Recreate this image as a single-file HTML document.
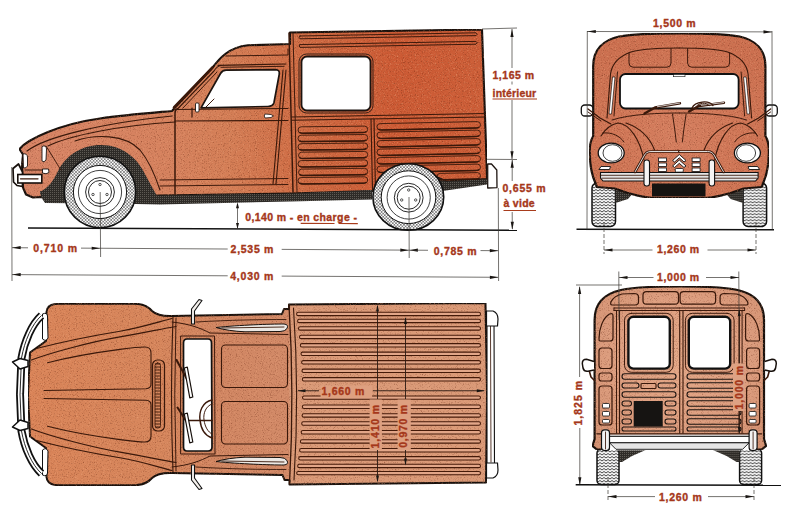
<!DOCTYPE html>
<html><head><meta charset="utf-8"><title>Citroën Acadiane - dimensions</title>
<style>
html,body{margin:0;padding:0;background:#fff;}
body{width:800px;height:522px;overflow:hidden;}
svg{display:block;}
.t{font-family:"Liberation Sans",sans-serif;font-weight:bold;font-size:10.5px;fill:#a5371a;stroke:#a5371a;stroke-width:0.35px;letter-spacing:0.8px;}
.ol{fill:none;stroke:#3a180a;stroke-linejoin:round;stroke-linecap:round;}
.dim{stroke:#2a2a2a;stroke-width:0.8;fill:none;}
</style></head><body>
<svg width="800" height="522" viewBox="0 0 800 522">
<defs>
  <pattern id="dots" width="3.200" height="3.200" patternUnits="userSpaceOnUse">
    <rect width="3.200" height="3.200" fill="#fff"/>
    <circle cx="0.8" cy="0.8" r="0.72" fill="#3c3c3c"/>
    <circle cx="2.400" cy="2.400" r="0.72" fill="#3c3c3c"/>
  </pattern>
  <pattern id="hatch" width="2" height="2" patternUnits="userSpaceOnUse">
    <rect width="2" height="2" fill="#2e2b27"/>
    <rect width="1" height="1" fill="#5e5a54"/>
  </pattern>
  <pattern id="tread" width="4" height="3" patternUnits="userSpaceOnUse">
    <rect width="4" height="3" fill="#f4f4f4"/>
    <path d="M0,0.5 L2,2 L4,0.5" stroke="#333" stroke-width="0.9" fill="none"/>
  </pattern>
  <linearGradient id="gSide" gradientUnits="userSpaceOnUse" x1="20" y1="0" x2="487" y2="0">
    <stop offset="0" stop-color="#d78466"/>
    <stop offset="0.32" stop-color="#d6825e"/>
    <stop offset="0.45" stop-color="#d47e56"/>
    <stop offset="0.6" stop-color="#cf6c44"/>
    <stop offset="0.8" stop-color="#cc5a34"/>
    <stop offset="1" stop-color="#cc5e38"/>
  </linearGradient>
  <linearGradient id="gTop" gradientUnits="userSpaceOnUse" x1="20" y1="0" x2="487" y2="0">
    <stop offset="0" stop-color="#da8458"/>
    <stop offset="0.3" stop-color="#d6865c"/>
    <stop offset="0.42" stop-color="#d18662"/>
    <stop offset="0.575" stop-color="#d28a68"/>
    <stop offset="0.578" stop-color="#da9a78"/>
    <stop offset="1" stop-color="#da9a78"/>
  </linearGradient>
  <radialGradient id="gRear" cx="0.5" cy="0.45" r="0.62">
    <stop offset="0" stop-color="#e3a888"/>
    <stop offset="0.55" stop-color="#dea082"/>
    <stop offset="1" stop-color="#d49374"/>
  </radialGradient>
  <radialGradient id="gFront" cx="0.5" cy="0.6" r="0.6">
    <stop offset="0" stop-color="#d57f60"/>
    <stop offset="1" stop-color="#cc7050"/>
  </radialGradient>
  <filter id="grain" x="0" y="0" width="1" height="1" color-interpolation-filters="sRGB">
    <feTurbulence type="fractalNoise" baseFrequency="0.85" numOctaves="2" seed="7" result="n"/>
    <feColorMatrix in="n" type="matrix" values="0 0 0 0 0.36  0 0 0 0 0.12  0 0 0 0 0.04  1.25 0 0 0 -0.675" result="dk"/>
    <feColorMatrix in="n" type="matrix" values="0 0 0 0 0.95  0 0 0 0 0.68  0 0 0 0 0.52  0 -1.25 0 0 0.585" result="lt"/>
    <feComposite in="dk" in2="SourceAlpha" operator="in" result="dk2"/>
    <feComposite in="lt" in2="SourceAlpha" operator="in" result="lt2"/>
    <feMerge><feMergeNode in="SourceGraphic"/><feMergeNode in="dk2"/><feMergeNode in="lt2"/></feMerge>
  </filter>
</defs>
<rect width="800" height="522" fill="#fff"/>
<g id="side">
  <!-- body -->
  <path d="M19.500,149 C28,139 60,124 100,118.500 C125,115 150,113 172,111 L175,107.500 L213,67 C219,59 228,47.500 248,45.300 L290,44 L290,32.500 L482,29.500 L486.500,160 L487,179 L446,181.500 L437.500,177.500 L372,191 L290,193.600 L160,195.600 L62,199 L41,197 L33,197.500 L26,194.500 L23,187.500 L22,165 L23,154.500 Z" fill="url(#gSide)" filter="url(#grain)" stroke="#17100c" stroke-width="2.100" stroke-linejoin="round"/>
  <!-- sill dark band -->
  <path d="M40,191 L60,197 L160,195.600 L290,193.600 L372,190 L372,199.500 L290,201.500 L160,204.500 L62,202.500 L41.500,197.500 Z" fill="url(#hatch)"/>
  <path d="M437.500,177.500 L446,181.500 L487,179 L487,184.500 L446,190.500 L436,192 Z" fill="url(#hatch)"/>
  <!-- front wheel arch -->
  <path d="M40,192 C48,188 54,180 58,171 C66,155 82,145 101,145 C122,145 138,158 146,176 L157,196 L157,204 L45,203 L41,197 Z" fill="url(#hatch)"/>
  <g id="sideribs"><path d="M301.2,126.8 L364.5,126.1 A3.2 3.2 0 0 1 364.5,132.5 L301.2,133.2 A3.2 3.2 0 0 1 301.2,126.8 Z" fill="none" stroke="#3a180a" stroke-width="0.9"/><path d="M299.9,132.6 Q301.2,133.2 303.2,133.2 L362.5,132.5 Q364.5,132.5 365.8,131.9" fill="none" stroke="#3a180a" stroke-width="1.500" stroke-linecap="round"/><path d="M301.2,135.2 L364.5,134.5 A3.2 3.2 0 0 1 364.5,140.9 L301.2,141.6 A3.2 3.2 0 0 1 301.2,135.2 Z" fill="none" stroke="#3a180a" stroke-width="0.9"/><path d="M299.9,141.0 Q301.2,141.6 303.2,141.6 L362.5,140.9 Q364.5,140.9 365.8,140.3" fill="none" stroke="#3a180a" stroke-width="1.500" stroke-linecap="round"/><path d="M301.2,143.7 L364.5,143.0 A3.2 3.2 0 0 1 364.5,149.4 L301.2,150.1 A3.2 3.2 0 0 1 301.2,143.7 Z" fill="none" stroke="#3a180a" stroke-width="0.9"/><path d="M299.9,149.5 Q301.2,150.1 303.2,150.1 L362.5,149.4 Q364.5,149.4 365.8,148.8" fill="none" stroke="#3a180a" stroke-width="1.500" stroke-linecap="round"/><path d="M301.2,152.2 L364.5,151.4 A3.2 3.2 0 0 1 364.5,157.8 L301.2,158.5 A3.2 3.2 0 0 1 301.2,152.2 Z" fill="none" stroke="#3a180a" stroke-width="0.9"/><path d="M299.9,157.9 Q301.2,158.5 303.2,158.5 L362.5,157.8 Q364.5,157.8 365.8,157.2" fill="none" stroke="#3a180a" stroke-width="1.500" stroke-linecap="round"/><path d="M301.2,160.6 L364.5,159.9 A3.2 3.2 0 0 1 364.5,166.3 L301.2,167.0 A3.2 3.2 0 0 1 301.2,160.6 Z" fill="none" stroke="#3a180a" stroke-width="0.9"/><path d="M299.9,166.4 Q301.2,167.0 303.2,167.0 L362.5,166.3 Q364.5,166.3 365.8,165.7" fill="none" stroke="#3a180a" stroke-width="1.500" stroke-linecap="round"/><path d="M301.2,169.1 L364.5,168.3 A3.2 3.2 0 0 1 364.5,174.7 L301.2,175.4 A3.2 3.2 0 0 1 301.2,169.1 Z" fill="none" stroke="#3a180a" stroke-width="0.9"/><path d="M299.9,174.8 Q301.2,175.4 303.2,175.4 L362.5,174.7 Q364.5,174.7 365.8,174.1" fill="none" stroke="#3a180a" stroke-width="1.500" stroke-linecap="round"/><path d="M301.2,177.5 L364.5,176.8 A3.2 3.2 0 0 1 364.5,183.2 L301.2,183.9 A3.2 3.2 0 0 1 301.2,177.5 Z" fill="none" stroke="#3a180a" stroke-width="0.9"/><path d="M299.9,183.3 Q301.2,183.9 303.2,183.9 L362.5,183.2 Q364.5,183.2 365.8,182.6" fill="none" stroke="#3a180a" stroke-width="1.500" stroke-linecap="round"/><path d="M380.2,123.6 L477.3,121.6 A3.2 3.2 0 0 1 477.3,128.0 L380.2,130.0 A3.2 3.2 0 0 1 380.2,123.6 Z" fill="none" stroke="#3a180a" stroke-width="0.9"/><path d="M378.9,129.4 Q380.2,130.0 382.2,130.0 L475.3,128.0 Q477.3,128.0 478.6,127.4" fill="none" stroke="#3a180a" stroke-width="1.500" stroke-linecap="round"/><path d="M380.2,132.1 L477.3,130.1 A3.2 3.2 0 0 1 477.3,136.5 L380.2,138.5 A3.2 3.2 0 0 1 380.2,132.1 Z" fill="none" stroke="#3a180a" stroke-width="0.9"/><path d="M378.9,137.9 Q380.2,138.5 382.2,138.5 L475.3,136.5 Q477.3,136.5 478.6,135.9" fill="none" stroke="#3a180a" stroke-width="1.500" stroke-linecap="round"/><path d="M380.2,140.6 L477.3,138.6 A3.2 3.2 0 0 1 477.3,145.0 L380.2,147.0 A3.2 3.2 0 0 1 380.2,140.6 Z" fill="none" stroke="#3a180a" stroke-width="0.9"/><path d="M378.9,146.4 Q380.2,147.0 382.2,147.0 L475.3,145.0 Q477.3,145.0 478.6,144.4" fill="none" stroke="#3a180a" stroke-width="1.500" stroke-linecap="round"/><path d="M380.2,149.1 L477.3,147.1 A3.2 3.2 0 0 1 477.3,153.5 L380.2,155.5 A3.2 3.2 0 0 1 380.2,149.1 Z" fill="none" stroke="#3a180a" stroke-width="0.9"/><path d="M378.9,154.9 Q380.2,155.5 382.2,155.5 L475.3,153.5 Q477.3,153.5 478.6,152.9" fill="none" stroke="#3a180a" stroke-width="1.500" stroke-linecap="round"/><path d="M380.2,157.6 L477.3,155.6 A3.2 3.2 0 0 1 477.3,162.0 L380.2,164.0 A3.2 3.2 0 0 1 380.2,157.6 Z" fill="none" stroke="#3a180a" stroke-width="0.9"/><path d="M378.9,163.4 Q380.2,164.0 382.2,164.0 L475.3,162.0 Q477.3,162.0 478.6,161.4" fill="none" stroke="#3a180a" stroke-width="1.500" stroke-linecap="round"/><path d="M380.2,166.1 L477.3,164.1 A3.2 3.2 0 0 1 477.3,170.5 L380.2,172.5 A3.2 3.2 0 0 1 380.2,166.1 Z" fill="none" stroke="#3a180a" stroke-width="0.9"/><path d="M378.9,171.9 Q380.2,172.5 382.2,172.5 L475.3,170.5 Q477.3,170.5 478.6,169.9" fill="none" stroke="#3a180a" stroke-width="1.500" stroke-linecap="round"/><path d="M440.2,173.4 L477.3,172.6 A3.2 3.2 0 0 1 477.3,179.0 L440.2,179.8 A3.2 3.2 0 0 1 440.2,173.4 Z" fill="none" stroke="#3a180a" stroke-width="0.9"/><path d="M438.9,179.2 Q440.2,179.8 442.2,179.8 L475.3,179.0 Q477.3,179.0 478.6,178.4" fill="none" stroke="#3a180a" stroke-width="1.500" stroke-linecap="round"/></g>
  <!-- hood/fender lines -->
  <path class="ol" stroke-width="1.22" d="M27,151 C45,137 100,123.500 172,116"/>
  <path class="ol" stroke-width="1.1" d="M48,146 C70,135 120,125.500 175,122"/>
  <path class="ol" stroke-width="0.98" d="M46,146 C55,160 58,166 61,170"/>
  <path class="ol" stroke-width="1.1" d="M75,141 C95,134 125,134 140,150 C150,162 156,178 160,190"/>
  <!-- belt lines / door -->
  <path class="ol" stroke-width="1.1" d="M175,109.500 L288,108.500"/>
  <path class="ol" stroke-width="1.1" d="M175,121 L288,120.500"/>
  <path class="ol" stroke-width="1.500" d="M178,108.500 Q175,109.500 175,113 L175,194"/>
  
  <path class="ol" stroke-width="0.98" d="M160,180 L288,178.500"/>
  <path class="ol" stroke-width="0.98" d="M160,186 L288,184.500"/>
  <path class="ol" stroke-width="1.1" d="M283,70 L273,184"/>
  <path class="ol" stroke-width="1.1" d="M286,70 L276,184"/>
  <path class="ol" stroke-width="1.46" d="M289,33 L293,192"/>
  <path class="ol" stroke-width="0.98" d="M293,33 L297,192"/>
  <!-- cab roof gutter -->
  <path class="ol" stroke-width="0.98" d="M226,56 L288,55 L288,49"/>
  <path class="ol" stroke-width="1.22" d="M218,65.300 L286,64"/><path class="ol" stroke-width="0.98" d="M221,67.300 L284,66.300"/>
  <!-- a-pillar -->
  <path class="ol" stroke="#1d1410" stroke-width="2.6" d="M174,107.500 L212.500,67.500"/>
  <path class="ol" stroke-width="1.1" d="M178.500,108 L214,71 Q217,66 221,65.500"/><path class="ol" stroke-width="0.98" d="M183,108 L217,72"/>
  <!-- windows -->
  <path d="M201,107.800 L220.500,73.500 Q222.500,70.300 226,70.200 L275.500,69.600 Q279.800,69.800 279.300,74 L274,102.500 Q273,106.300 268,106.500 Z" fill="#fff" stroke="#1d1410" stroke-width="1.700" stroke-linejoin="round"/>
  <path class="ol" stroke-width="0.98" d="M206,107 L214,99"/>
  <rect x="301.500" y="56.500" width="69" height="54" rx="5.500" fill="#fff" stroke="#1d1410" stroke-width="1.8"/>
  <rect x="299" y="54" width="74" height="59" rx="7.500" fill="none" stroke="#1d1410" stroke-width="0.84"/>
  <!-- cargo top ribs -->
  <path class="ol" stroke-width="0.98" d="M300,36 L476,32.800 Q478.500,34.200 476,35.600 L300,38.800 Q298,37.400 300,36 Z"/>
  <path class="ol" stroke-width="0.98" d="M300,44.600 L476,41.400 Q478.500,42.800 476,44.200 L300,47.400 Q298,46 300,44.600 Z"/>
  <!-- cargo belt line -->
  <path class="ol" stroke-width="1.22" d="M292,117 L485.500,113.500"/>
  <path class="ol" stroke-width="1.1" d="M292,120.300 L485.500,117"/>
  <path class="ol" stroke-width="1.1" d="M371,119 L372.500,190"/>
  <path class="ol" stroke-width="1.1" d="M374,119 L375.500,190"/>
  <!-- mirror -->
  <rect x="195.500" y="103" width="3.500" height="9" rx="1" fill="#fff" stroke="#1d1410" stroke-width="0.9"/>
  <path class="ol" stroke-width="1.22" d="M192,108 L192,117"/>
  <!-- door handle -->
  <path d="M265,114 L271,114.500 L273.500,116 L271,117.500 L265,118 Q263.500,116 265,114 Z" fill="#fff" stroke="#1d1410" stroke-width="0.8"/>
  <!-- headlights -->
  <path d="M23,154 Q27,153 27.500,157 L27.500,166 Q26,168.500 23.500,168 Z" fill="#fff" stroke="#1d1410" stroke-width="0.9"/>
  <path d="M42,146.500 Q46,144.500 46.500,149 L46,160 Q44,163 42,161 Z" fill="#fff" stroke="#1d1410" stroke-width="0.9"/>
  <!-- bumper -->
  <path class="ol" stroke-width="1" d="M25,170 L44,170"/>
  <path d="M42.500,169 L48.500,169 L49,172.500 L46,173.800 L42.500,173 Z" fill="#fff" stroke="#17100c" stroke-width="0.9"/>
  <path d="M13,168.500 L18.500,164 L22.500,172 L22.500,186.500 L17,185.500 L13.500,182 Z" fill="#fff" stroke="#17100c" stroke-width="1.700" stroke-linejoin="round"/>
  <rect x="17.800" y="174.500" width="24" height="8.500" fill="#fff" stroke="#17100c" stroke-width="1.600"/>
  <path class="ol" stroke="#17100c" stroke-width="1.300" d="M20.500,178.800 L38,178.800"/>
  <!-- rear bumper -->
  <path d="M487.700,164 L491.500,164 L496.800,170 L497,187.600 L487.700,188 Z" fill="#fff" stroke="#1d1410" stroke-width="1.300" stroke-linejoin="round"/>
  <!-- front wheel -->
  <g>
    <circle cx="100" cy="192" r="35.700" fill="url(#dots)" stroke="#111" stroke-width="1.600"/>
    <circle cx="100" cy="192" r="26.600" fill="#fff" stroke="#111" stroke-width="1"/>
    <circle cx="100" cy="192" r="21.600" fill="none" stroke="#111" stroke-width="0.8"/>
    <circle cx="100" cy="192" r="14.400" fill="none" stroke="#111" stroke-width="0.9"/>
    <circle cx="100" cy="192" r="11.500" fill="none" stroke="#111" stroke-width="0.9"/>
    <circle cx="100" cy="184.500" r="1.200" fill="none" stroke="#111" stroke-width="0.7"/>
    <circle cx="93" cy="194.500" r="1.200" fill="none" stroke="#111" stroke-width="0.7"/>
    <circle cx="107" cy="194.500" r="1.200" fill="none" stroke="#111" stroke-width="0.7"/>
  </g>
  <!-- rear wheel -->
  <g>
    <ellipse cx="408.300" cy="197" rx="35.400" ry="33.300" fill="url(#dots)" stroke="#111" stroke-width="1.600"/>
    <ellipse cx="408.500" cy="197.200" rx="27.300" ry="26.400" fill="#fff" stroke="#111" stroke-width="1"/>
    <circle cx="408.700" cy="197.500" r="21.600" fill="none" stroke="#111" stroke-width="0.8"/>
    <circle cx="408.700" cy="197.700" r="14.400" fill="none" stroke="#111" stroke-width="0.9"/>
    <circle cx="408.700" cy="197.700" r="11.500" fill="none" stroke="#111" stroke-width="0.9"/>
    <circle cx="408.700" cy="190" r="1.200" fill="none" stroke="#111" stroke-width="0.7"/>
    <circle cx="401.700" cy="200" r="1.200" fill="none" stroke="#111" stroke-width="0.7"/>
    <circle cx="415.700" cy="200" r="1.200" fill="none" stroke="#111" stroke-width="0.7"/>
  </g>
  <!-- ground -->
  <path d="M28,228 L517,230.200" stroke="#111" stroke-width="1.500" fill="none"/>
</g>
<g id="front">
  <defs>
    <g id="fhalf">
      <!-- tyre -->
      <rect x="592" y="183" width="23.500" height="43.500" rx="5" fill="url(#tread)" stroke="#111" stroke-width="1.500"/>
      <path d="M615.500,190 L634,192 L628,199 L615.500,203 Z" fill="url(#hatch)"/>
    </g>
    <g id="fhalf2">
      <!-- inner cab outline -->
      <path class="ol" stroke-width="1.1" d="M679.300,48 C655,48 640,49.500 631,52 C620,56 612,63 610.500,74 L607,118"/>
      <!-- visor -->
      <path class="ol" stroke-width="0.98" d="M629,53 L629,63 Q629,67 633,67.200 L667,67.200 Q671,67 671,63 L671,48.500"/>
      <!-- a pillar strip -->
      <path d="M612.500,77 L615,77 L611.500,114 L609,114 Z" fill="#fff" stroke="#1d1410" stroke-width="0.7"/>
      <path class="ol" stroke-width="0.98" d="M617.500,72 L614,116"/>
      <!-- mirror -->
      <rect x="581.300" y="105" width="11.500" height="11" rx="3.500" fill="#fff" stroke="#111" stroke-width="1.300"/>
      <path class="ol" stroke-width="1.3" d="M588,109 L600,118 L611,124"/>
      <path class="ol" stroke-width="0.98" d="M588,112 L601,121"/>
      <!-- fender crease -->
      <path class="ol" stroke-width="1.1" d="M601,136 C606,128 612,124 618,123 C630,124 640,140 644,160"/>
      <path class="ol" stroke-width="0.98" d="M603,133 C612,132 620,136 624,142"/>
      <!-- hood lines -->
      <path class="ol" stroke-width="0.98" d="M612,120 C630,114 660,113 679.300,113"/>
      <path class="ol" stroke-width="1.1" d="M626,123 C640,128 650,138 654.500,150"/>
      <path class="ol" stroke-width="0.98" d="M672.500,114 Q675,130 676.300,142"/>
      <!-- headlight -->
      <ellipse cx="611.200" cy="153" rx="13" ry="9.800" fill="#fff" stroke="#111" stroke-width="1.300"/>
      <ellipse cx="612.500" cy="153" rx="9.500" ry="8.300" fill="#fff" stroke="#111" stroke-width="0.8"/>
      <!-- indicator -->
      <path d="M599,169.500 L601,166.500 L610.500,166.500 L609.500,169.500 Z" fill="#fff" stroke="#111" stroke-width="0.9"/>
      <!-- grille tube -->
      <path class="ol" stroke-width="2.6" d="M635,172 L644,156 Q646,151.500 651,151.500 L679.300,151.500"/>
      <path d="M635,172 L644,156 Q646,151.500 651,151.500 L679.300,151.500" fill="none" stroke="#ddd" stroke-width="1"/>
      <!-- overrider -->
      <rect x="644" y="160" width="5.500" height="26" rx="2.500" fill="#f4f4f4" stroke="#111" stroke-width="1.100"/>
      <!-- grille slots -->
      <rect x="658.500" y="158" width="8" height="3.400" fill="#fff" stroke="#111" stroke-width="0.8"/>
      <rect x="658.500" y="163" width="8" height="3.400" fill="#fff" stroke="#111" stroke-width="0.8"/>
      <rect x="658.500" y="168" width="8" height="3.400" fill="#fff" stroke="#111" stroke-width="0.8"/>
    </g>
  </defs>
  <use href="#fhalf"/>
  <use href="#fhalf" transform="translate(1358.600,0) scale(-1,1)"/>
  <!-- main body -->
  <path d="M679.300,33.300 C650,33.300 630,34.500 619,36.500 C603,40 593.200,50 593.200,66 L593.200,136 C590,141 589.500,147 589.800,154 C590,165 592,175 595,182 L597,187 L615,188.500 C630,194 645,198 655,198 L703.600,198 C713.600,198 728.600,194 743.600,188.500 L761.600,187 L763.600,182 C766.600,175 768.600,165 768.800,154 C769.100,147 768.600,141 765.400,136 L765.400,66 C765.400,50 755.600,40 739.600,36.500 C728.600,34.500 708.600,33.300 679.300,33.300 Z" fill="url(#gFront)" filter="url(#grain)" stroke="#17100c" stroke-width="2.200" stroke-linejoin="round"/>
  <!-- windshield -->
  <rect x="620" y="74" width="118.600" height="34.500" rx="5.500" fill="#fff" stroke="#111" stroke-width="1.800"/>
  <rect x="673.500" y="74.500" width="11.500" height="2.200" fill="#fff" stroke="#111" stroke-width="0.6"/>
  <!-- bumper -->
  <path d="M600.500,172.500 L758.100,172.500 L758.100,178 L755.600,181 L603,181 L600.500,178 Z" fill="#e4e4e4" stroke="#111" stroke-width="1.100"/>
  <path class="ol" stroke-width="0.85" d="M601,175.300 L757.600,175.300 M602,178.200 L756.600,178.200"/>
  <use href="#fhalf2"/>
  <use href="#fhalf2" transform="translate(1358.600,0) scale(-1,1)"/>
  <!-- wipers -->
  <path class="ol" stroke="#17100c" stroke-width="2.400" d="M644.500,113.500 L655,107.500 L680,103.200"/>
  <path d="M657,106.800 L680,103" fill="none" stroke="#eee" stroke-width="0.8"/>
  <path class="ol" stroke="#17100c" stroke-width="2.400" d="M689,111.500 L699,106 L724,102.700"/>
  <path d="M701,105.300 L724,102.500" fill="none" stroke="#eee" stroke-width="0.8"/>
  <path class="ol" stroke="#17100c" stroke-width="1.300" d="M692,108 C695,101 709,100 713,105.500"/>
  <path class="ol" stroke="#17100c" stroke-width="1" d="M696,106.500 C699,102.500 706,102 709,105.500"/>
  <!-- chevrons -->
  <path d="M679.300,154.500 L686,160.500 L684,162 L679.300,157.800 L674.600,162 L672.600,160.500 Z" fill="#fff" stroke="#111" stroke-width="0.9" stroke-linejoin="round"/>
  <path d="M679.300,160 L686,166 L684,167.500 L679.300,163.300 L674.600,167.500 L672.600,166 Z" fill="#fff" stroke="#111" stroke-width="0.9" stroke-linejoin="round"/>
  <rect x="675.300" y="168.500" width="8" height="3.600" rx="1" fill="#fff" stroke="#111" stroke-width="0.8"/>
  <!-- plate -->
  <rect x="652" y="183.500" width="53.500" height="13" fill="#161412"/>
  <!-- ground -->
  <path d="M576.500,229.300 L774,229.800" stroke="#111" stroke-width="1.500" fill="none"/>
</g>
<g id="top">
  <defs>
    <g id="thalf">
      <!-- headlight on fender -->
      <path d="M42.500,314 Q47,312 47.500,316 L48,338 Q46,342 42.500,339 Z" fill="#fff" stroke="#111" stroke-width="1"/>
      <!-- bumper arc -->
      <path d="M41.500,315.500 C32,324 24.500,341 21.500,358 L20,395" fill="none" stroke="#111" stroke-width="8" stroke-linecap="butt"/>
      <path d="M41.500,315.500 C32,324 24.500,341 21.500,358 L20,395" fill="none" stroke="#fff" stroke-width="4.400" stroke-linecap="butt"/>
      <path d="M41.500,315.500 C32,324 24.500,341 21.500,358 L20,395" fill="none" stroke="#111" stroke-width="0.9"/>
      <path d="M12.500,362 L20,358.500 L28,360.500 L28,366.500 L20,369 Z" fill="#fff" stroke="#111" stroke-width="1.500" stroke-linejoin="round"/>
      <!-- hood creases -->
      <path class="ol" stroke-width="1.22" d="M36.500,348.500 C60,342.500 100,334.500 120,331.250 S160,321.500 172,318.500"/>
      <path class="ol" stroke-width="1.22" d="M31.500,360 C50,353 90,342 120,336.900 S160,329 176,326.500"/>
      <path class="ol" stroke-width="1.1" d="M47.500,362.750 C70,357 100,352 120,349.400 S140,347 145,347 Q151,347 151,353 L151,384 Q151,388.500 146,388.700 L44,390.500"/>
      <!-- side window strip -->
      <path d="M216,327.500 C240,325 270,324 284,324 Q289,324.500 287,328.500 Q285,331.500 280,331.500 L245,331.800 Q228,331 216,327.500 Z" fill="#ece8e4" stroke="#17100c" stroke-width="1"/>
      <path class="ol" stroke-width="0.9" d="M222,328 L284,327"/>
      <path class="ol" stroke-width="1" d="M172,322 C190,324 200,328 210,333 L288,334.500"/>
      <path class="ol" stroke-width="0.9" d="M196,322 C230,320 260,319.500 286,319.500"/>
      <!-- mirror -->
      <path d="M191.500,324 L191.500,309 L199,299.500 L202,300.500 L194.500,311 L194.500,324 Z" fill="#f4f0ec" stroke="#111" stroke-width="1.100" stroke-linejoin="round"/>
      <!-- roof panel -->
      <rect class="ol" stroke-width="1.1" x="221.500" y="345" width="66" height="42.500" rx="4"/>
      <!-- rear bumper overrider -->
      <path d="M486.500,311 L493,311 Q498,313 498,319 L497.500,326 L486.500,326 Z" fill="#fff" stroke="#111" stroke-width="1.200"/>
    </g>
  </defs>
  <!-- rear bumper bar -->
  <path d="M487,318 L494,318 L494.500,468 L487,468 Z" fill="#fff" stroke="#111" stroke-width="1.100"/>
  <path class="ol" stroke-width="0.85" d="M490.500,326 L491,462"/>
  <!-- body -->
  <path d="M28,394.500 L30,352.500 L46,341 L46.500,312 Q47,304 58,303.800 L135,303.800 Q146,304 152,311 Q158,316.500 172,316 L282,314 L284,309 L289,309 L289,304.500 L485.500,303 L487,394 L486,482.500 L289.500,484.500 L289.500,480 L284.500,480 L282.500,475 L172,473 Q158,472.500 152,478 Q146,485 135,485.200 L58,485.200 Q47,485 46.500,477 L46,448 L30,436.500 Z" fill="url(#gTop)" filter="url(#grain)" stroke="#17100c" stroke-width="2" stroke-linejoin="round"/>
  <use href="#thalf"/>
  <use href="#thalf" transform="translate(0,789) scale(1,-1)"/>
  <!-- cowl lines -->
  <path class="ol" stroke-width="1.1" d="M173,317 Q170,394 173,472"/>
  <path class="ol" stroke-width="0.98" d="M176,318 Q173.500,394 176,471"/>
  <!-- cargo front edge -->
  <path class="ol" stroke-width="1.3" d="M289,305 Q294.500,394 289.500,484"/>
  <path class="ol" stroke-width="1.1" d="M293.500,308 Q299.500,394 294,480"/>
  <!-- windshield -->
  <path d="M187,339 L208,339 Q211.500,339 211.500,343 L212,447 Q212,451 208,451 L187,451 Q183.500,451 183.500,447 L183.500,343 Q183.500,339 187,339 Z" fill="#fff" stroke="#111" stroke-width="1.700"/>
  <path class="ol" stroke-width="0.98" d="M181,336 L214.500,336 L215,454 L181,454 Z"/>
  <!-- steering wheel -->
  <path class="ol" stroke-width="1.46" d="M212,400 C202,402 199,412 200,420 C201,430 206,436 212,438"/>
  <path class="ol" stroke-width="0.98" d="M212,404 C206,406 203,413 204,420 C205,427 208,432 212,434"/>
  <path class="ol" stroke-width="1.46" d="M189,420.500 L212,420.500"/>
  <!-- wipers -->
  <path class="ol" stroke="#17100c" stroke-width="2" d="M176.500,360 L188,381"/>
  <path d="M184.300,368 L187.300,367.200 L192.800,397 L189.800,397.800 Z" fill="#fff" stroke="#17100c" stroke-width="1.200" stroke-linejoin="round"/>
  <path class="ol" stroke="#17100c" stroke-width="2" d="M177.500,407.500 L188,424"/>
  <path d="M184.300,414 L187.300,413.200 L192.800,442 L189.800,442.800 Z" fill="#fff" stroke="#17100c" stroke-width="1.200" stroke-linejoin="round"/>
  <!-- vent -->
  <rect class="ol" stroke-width="1.22" x="152.500" y="360" width="12" height="71" rx="5"/>
  <rect class="ol" stroke-width="0.85" x="155" y="363" width="5.500" height="65" rx="2.500"/>
  <!-- roof panel 2 handled by mirror; hood centre line -->
</g>
<g id="topribs"><path d="M155,364 L160.500,364" stroke="#3a180a" stroke-width="0.9"/><path d="M155,367 L160.500,367" stroke="#3a180a" stroke-width="0.9"/><path d="M155,370 L160.500,370" stroke="#3a180a" stroke-width="0.9"/><path d="M155,373 L160.500,373" stroke="#3a180a" stroke-width="0.9"/><path d="M155,376 L160.500,376" stroke="#3a180a" stroke-width="0.9"/><path d="M155,379 L160.500,379" stroke="#3a180a" stroke-width="0.9"/><path d="M155,382 L160.500,382" stroke="#3a180a" stroke-width="0.9"/><path d="M155,385 L160.500,385" stroke="#3a180a" stroke-width="0.9"/><path d="M155,388 L160.500,388" stroke="#3a180a" stroke-width="0.9"/><path d="M155,391 L160.500,391" stroke="#3a180a" stroke-width="0.9"/><path d="M155,394 L160.500,394" stroke="#3a180a" stroke-width="0.9"/><path d="M155,397 L160.500,397" stroke="#3a180a" stroke-width="0.9"/><path d="M155,400 L160.500,400" stroke="#3a180a" stroke-width="0.9"/><path d="M155,403 L160.500,403" stroke="#3a180a" stroke-width="0.9"/><path d="M155,406 L160.500,406" stroke="#3a180a" stroke-width="0.9"/><path d="M155,409 L160.500,409" stroke="#3a180a" stroke-width="0.9"/><path d="M155,412 L160.500,412" stroke="#3a180a" stroke-width="0.9"/><path d="M155,415 L160.500,415" stroke="#3a180a" stroke-width="0.9"/><path d="M155,418 L160.500,418" stroke="#3a180a" stroke-width="0.9"/><path d="M155,421 L160.500,421" stroke="#3a180a" stroke-width="0.9"/><path d="M155,424 L160.500,424" stroke="#3a180a" stroke-width="0.9"/><path d="M155,427 L160.500,427" stroke="#3a180a" stroke-width="0.9"/><rect x="296.6" y="312.20" width="183.9" height="3.400" rx="1.700" fill="#e2a688" stroke="#451a08" stroke-width="1.050"/><rect x="297.6" y="319.20" width="182.9" height="3.400" rx="1.700" fill="#e2a688" stroke="#451a08" stroke-width="1.050"/><rect x="298.5" y="326.70" width="182.0" height="3.400" rx="1.700" fill="#e2a688" stroke="#451a08" stroke-width="1.050"/><rect x="299.5" y="335.20" width="181.0" height="3.400" rx="1.700" fill="#e2a688" stroke="#451a08" stroke-width="1.050"/><rect x="300.3" y="343.60" width="180.2" height="3.400" rx="1.700" fill="#e2a688" stroke="#451a08" stroke-width="1.050"/><rect x="301.0" y="352.10" width="179.5" height="3.400" rx="1.700" fill="#e2a688" stroke="#451a08" stroke-width="1.050"/><rect x="301.6" y="360.60" width="178.9" height="3.400" rx="1.700" fill="#e2a688" stroke="#451a08" stroke-width="1.050"/><rect x="302.0" y="369.10" width="178.5" height="3.400" rx="1.700" fill="#e2a688" stroke="#451a08" stroke-width="1.050"/><rect x="302.3" y="377.60" width="178.2" height="3.400" rx="1.700" fill="#e2a688" stroke="#451a08" stroke-width="1.050"/><rect x="302.5" y="395.90" width="178.0" height="3.400" rx="1.700" fill="#e2a688" stroke="#451a08" stroke-width="1.050"/><rect x="302.4" y="405.05" width="178.1" height="3.400" rx="1.700" fill="#e2a688" stroke="#451a08" stroke-width="1.050"/><rect x="302.1" y="413.70" width="178.4" height="3.400" rx="1.700" fill="#e2a688" stroke="#451a08" stroke-width="1.050"/><rect x="301.7" y="421.80" width="178.8" height="3.400" rx="1.700" fill="#e2a688" stroke="#451a08" stroke-width="1.050"/><rect x="301.2" y="430.50" width="179.3" height="3.400" rx="1.700" fill="#e2a688" stroke="#451a08" stroke-width="1.050"/><rect x="300.4" y="439.70" width="180.1" height="3.400" rx="1.700" fill="#e2a688" stroke="#451a08" stroke-width="1.050"/><rect x="299.6" y="448.50" width="180.9" height="3.400" rx="1.700" fill="#e2a688" stroke="#451a08" stroke-width="1.050"/><rect x="298.7" y="456.60" width="181.8" height="3.400" rx="1.700" fill="#e2a688" stroke="#451a08" stroke-width="1.050"/><rect x="297.7" y="464.20" width="182.8" height="3.400" rx="1.700" fill="#e2a688" stroke="#451a08" stroke-width="1.050"/><rect x="296.7" y="471.40" width="183.8" height="3.400" rx="1.700" fill="#e2a688" stroke="#451a08" stroke-width="1.050"/></g>
<g id="rear">
  <defs>
    <g id="rhalf0">
      <rect x="597" y="449" width="22" height="35.500" rx="4" fill="url(#tread)" stroke="#111" stroke-width="1.500"/>
      <path d="M619,449 L648,449 L632,456 L622,462 L619,462 Z" fill="url(#hatch)"/>
    </g>
    <g id="rhalf">
      <!-- top panels -->
      <path class="ol" stroke-width="1.22" d="M612,305 Q610,304.800 611,301.800 Q614,296 622,294 L634,293.500 Q638.500,293.500 638.500,297 L638.500,301.800 Q638.500,305 635,305 Z"/>
      <rect class="ol" stroke-width="1.22" x="643" y="291.600" width="35.500" height="12.600" rx="3.500"/>
      <!-- horizontal bar -->
      <path class="ol" stroke-width="0.98" d="M614,308 L679.300,308 M614,310.500 L679.300,310.500 M614,308 L614,310.500"/>
      <!-- left column panels -->
      <path class="ol" stroke-width="1.22" d="M600,341 Q599,341 599,339 C599,328 603,318 609.500,314 Q613,312.500 613,316 L613,338 Q613,341 610,341 Z"/>
      <rect class="ol" stroke-width="1.22" x="599" y="348" width="13" height="20.500" rx="3"/>
      <rect class="ol" stroke-width="1.22" x="599" y="373" width="13" height="8" rx="2.500"/>
      <rect class="ol" stroke-width="1.22" x="599" y="386" width="13" height="39" rx="3"/>
      <rect x="602.500" y="403.500" width="7" height="4.500" rx="1" fill="#fff" stroke="#111" stroke-width="0.8"/>
      <rect x="602.500" y="411.500" width="7" height="4.500" rx="1" fill="#fff" stroke="#111" stroke-width="0.8"/>
      <rect x="602.500" y="419.500" width="7" height="3.500" rx="1" fill="#fff" stroke="#111" stroke-width="0.8"/>
      <!-- door frame -->
      <path class="ol" stroke-width="1.1" d="M619.500,311 L619.500,433"/>
      <path class="ol" stroke-width="0.98" d="M616.500,311 L616.500,433"/>
      <!-- window -->
      <rect x="628.400" y="316.800" width="41.400" height="51.800" rx="5" fill="#fff" stroke="#111" stroke-width="2.400"/>
      <rect class="ol" stroke-width="0.98" x="624.500" y="313.300" width="48.700" height="59" rx="7"/>
      <!-- mirror -->
      <path class="ol" stroke="#17100c" stroke-width="1.600" d="M589,370 L591,377 L594.500,380.500"/>
      <path d="M594,361.500 L586.500,359.300 Q582.300,359.300 582.300,363.500 L583,368 Q584,371.800 588,371.200 L594,370" fill="#fff" stroke="#17100c" stroke-width="1.500" stroke-linejoin="round"/>
      <!-- overrider -->
      <rect x="601.500" y="429.800" width="8" height="20.700" rx="3" fill="#f2f2f2" stroke="#111" stroke-width="1.200"/>
      <path class="ol" stroke-width="0.85" d="M605.500,432 L605.500,449"/>
    </g>
  </defs>
  <use href="#rhalf0"/>
  <use href="#rhalf0" transform="translate(1358.600,0) scale(-1,1)"/>
  <path d="M679.300,286.500 C650,286.500 632,287.500 621,290 C603,294 594.600,304 594.600,320 L594.600,439 L592.500,446 L597,449.500 L761.600,449.500 L766.100,446 L764,439 L764,320 C764,304 755.600,294 737.600,290 C726.600,287.500 708.600,286.500 679.300,286.500 Z" fill="url(#gRear)" filter="url(#grain)" stroke="#17100c" stroke-width="2.200" stroke-linejoin="round"/>
  <!-- bumper -->
  <rect x="609.500" y="434.300" width="139.600" height="16" fill="#fff"/>
  <rect x="605" y="436.300" width="148.600" height="6.500" fill="#fff" stroke="#111" stroke-width="1.100"/>
  <path d="M609.500,442.800 L616,449.300 L742.600,449.300 L749.100,442.800 Z" fill="#e6e6e6" stroke="#111" stroke-width="0.9"/>
  <path class="ol" stroke="#1d1410" stroke-width="1.3" d="M597,433.800 L761.600,433.800"/>
  <use href="#rhalf"/>
  <use href="#rhalf" transform="translate(1358.600,0) scale(-1,1)"/>
  <!-- door centre -->
  <path class="ol" stroke-width="1.1" d="M679.700,311 L679.700,433 M683,311 L683,433"/>
  <!-- plate -->
  <rect x="633.700" y="401" width="29" height="25.500" fill="#161412"/>
  <!-- handle -->
  <rect class="ol" stroke-width="1.1" x="641" y="383.500" width="15" height="5" rx="1"/>
  <!-- ground -->
  <path d="M575.700,484.800 L781,485.200" stroke="#111" stroke-width="1.500" fill="none"/>
</g>
<g id="rearribs"><rect x="622.0" y="373.8" width="54.0" height="5.5" rx="2.75" fill="none" stroke="#1d1410" stroke-width="1.08"/><rect x="622.0" y="383.0" width="17.0" height="5" rx="2.5" fill="none" stroke="#1d1410" stroke-width="1.08"/><rect x="658.0" y="383.0" width="18.0" height="5" rx="2.5" fill="none" stroke="#1d1410" stroke-width="1.08"/><rect x="622.0" y="391.8" width="54.0" height="5.5" rx="2.75" fill="none" stroke="#1d1410" stroke-width="1.08"/><rect x="622.0" y="401.0" width="9.5" height="5" rx="2.5" fill="none" stroke="#1d1410" stroke-width="1.08"/><rect x="665.0" y="401.0" width="11.0" height="5" rx="2.5" fill="none" stroke="#1d1410" stroke-width="1.08"/><rect x="622.0" y="410.0" width="9.5" height="5" rx="2.5" fill="none" stroke="#1d1410" stroke-width="1.08"/><rect x="665.0" y="410.0" width="11.0" height="5" rx="2.5" fill="none" stroke="#1d1410" stroke-width="1.08"/><rect x="622.0" y="419.0" width="9.5" height="5" rx="2.5" fill="none" stroke="#1d1410" stroke-width="1.08"/><rect x="665.0" y="419.0" width="11.0" height="5" rx="2.5" fill="none" stroke="#1d1410" stroke-width="1.08"/><rect x="687.0" y="373.8" width="54.0" height="5.5" rx="2.75" fill="none" stroke="#1d1410" stroke-width="1.08"/><rect x="687.0" y="382.8" width="54.0" height="5.5" rx="2.75" fill="none" stroke="#1d1410" stroke-width="1.08"/><rect x="687.0" y="391.8" width="54.0" height="5.5" rx="2.75" fill="none" stroke="#1d1410" stroke-width="1.08"/><rect x="687.0" y="400.8" width="54.0" height="5.5" rx="2.75" fill="none" stroke="#1d1410" stroke-width="1.08"/><rect x="687.0" y="409.8" width="54.0" height="5.5" rx="2.75" fill="none" stroke="#1d1410" stroke-width="1.08"/><rect x="687.0" y="418.8" width="54.0" height="5.5" rx="2.75" fill="none" stroke="#1d1410" stroke-width="1.08"/><rect x="622.0" y="427.0" width="54.0" height="4" rx="2.0" fill="none" stroke="#1d1410" stroke-width="1.08"/><rect x="687.0" y="427.0" width="54.0" height="4" rx="2.0" fill="none" stroke="#1d1410" stroke-width="1.08"/></g>
<g id="dims"><path d="M11.70,167.00 L12.00,281.00" stroke="#3a3632" stroke-width="0.7" fill="none" />
<path d="M100.20,192.00 L100.60,257.00" stroke="#3a3632" stroke-width="0.7" fill="none" />
<path d="M409.00,197.00 L409.20,258.00" stroke="#3a3632" stroke-width="0.7" fill="none" />
<path d="M498.30,188.00 L498.60,281.00" stroke="#3a3632" stroke-width="0.7" fill="none" />
<path d="M12.00,247.70 L28.00,247.80" stroke="#3a3632" stroke-width="0.7" fill="none" />
<polygon points="12.2,247.7 20.7,246.1 20.7,249.29999999999998" fill="#1a1613"/>
<path d="M81.00,248.13 L100.00,248.24" stroke="#3a3632" stroke-width="0.7" fill="none" />
<polygon points="100.2,248.2432098765432 91.7,246.6432098765432 91.7,249.8432098765432" fill="#1a1613"/>
<path d="M100.00,248.24 L227.70,249.03" stroke="#3a3632" stroke-width="0.7" fill="none" />
<path d="M281.70,249.36 L409.00,250.15" stroke="#3a3632" stroke-width="0.7" fill="none" />
<polygon points="408.8,250.1506172839506 400.3,248.5506172839506 400.3,251.7506172839506" fill="#1a1613"/>
<polygon points="409.4,250.1506172839506 417.9,248.5506172839506 417.9,251.7506172839506" fill="#1a1613"/>
<path d="M409.00,250.15 L428.00,250.27" stroke="#3a3632" stroke-width="0.7" fill="none" />
<path d="M480.50,250.59 L498.00,250.70" stroke="#3a3632" stroke-width="0.7" fill="none" />
<polygon points="498.3,250.7 489.8,249.1 489.8,252.29999999999998" fill="#1a1613"/>
<text class="t" x="33.3" y="251.8" textLength="44.7" lengthAdjust="spacing">0,710 m</text>
<text class="t" x="230.6" y="253.2" textLength="43.6" lengthAdjust="spacing">2,535 m</text>
<text class="t" x="433.7" y="255.2" textLength="43.8" lengthAdjust="spacing">0,785 m</text>
<path d="M12.00,274.60 L227.70,275.80" stroke="#3a3632" stroke-width="0.7" fill="none" />
<polygon points="12.2,274.6 20.7,273.0 20.7,276.20000000000005" fill="#1a1613"/>
<path d="M281.70,276.10 L498.00,277.30" stroke="#3a3632" stroke-width="0.7" fill="none" />
<polygon points="498.4,277.3 489.9,275.7 489.9,278.90000000000003" fill="#1a1613"/>
<text class="t" x="230.2" y="279.5" textLength="44" lengthAdjust="spacing">4,030 m</text>
<path d="M237.50,204.00 L237.50,228.50" stroke="#3a3632" stroke-width="0.7" fill="none" />
<polygon points="237.5,202.3 236.0,208.3 239.0,208.3" fill="#1a1613"/>
<polygon points="237.5,229 236.0,223 239.0,223" fill="#1a1613"/>
<text class="t" x="245.3" y="221.3" textLength="112.4" lengthAdjust="spacing">0,140 m - en charge -</text>
<path d="M300.70,223.40 L334.50,223.50" stroke="#a83c1c" stroke-width="1.1" fill="none" />
<path d="M338.50,223.50 L357.80,223.60" stroke="#a83c1c" stroke-width="1.1" fill="none" />
<path d="M482.00,29.00 L517.00,28.00" stroke="#3a3632" stroke-width="0.7" fill="none" />
<path d="M487.00,159.30 L517.00,159.50" stroke="#3a3632" stroke-width="0.7" fill="none" />
<path d="M512.00,29.00 L512.00,68.00" stroke="#3a3632" stroke-width="0.7" fill="none" />
<path d="M512.00,81.50 L512.00,84.50" stroke="#3a3632" stroke-width="0.7" fill="none" />
<path d="M512.00,100.00 L512.00,159.00" stroke="#3a3632" stroke-width="0.7" fill="none" />
<path d="M512.20,160.00 L512.20,181.00" stroke="#3a3632" stroke-width="0.7" fill="none" />
<path d="M512.20,212.00 L512.30,229.00" stroke="#3a3632" stroke-width="0.7" fill="none" />
<polygon points="512,29 510.4,37 513.6,37" fill="#1a1613"/>
<polygon points="512,159.2 510.4,151.2 513.6,151.2" fill="#1a1613"/>
<polygon points="512.2,159.8 510.6,167.8 513.8000000000001,167.8" fill="#1a1613"/>
<polygon points="512.3,229.8 510.69999999999993,221.8 513.9,221.8" fill="#1a1613"/>
<text class="t" x="492.5" y="78.5" textLength="42.5" lengthAdjust="spacing">1,165 m</text>
<text class="t" x="492.5" y="96.5" textLength="44.5" lengthAdjust="spacing">intérieur</text>
<path d="M492.50,99.00 L537.00,99.00" stroke="#a83c1c" stroke-width="1.1" fill="none" />
<text class="t" x="502.5" y="191.8" textLength="44" lengthAdjust="spacing">0,655 m</text>
<text class="t" x="503.5" y="206.8" textLength="32" lengthAdjust="spacing">à vide</text>
<path d="M503.50,210.50 L536.00,210.50" stroke="#a83c1c" stroke-width="1.1" fill="none" />
<path d="M587.30,31.00 L587.00,229.50" stroke="#3a3632" stroke-width="0.7" fill="none" />
<path d="M772.00,31.00 L772.30,229.50" stroke="#3a3632" stroke-width="0.7" fill="none" />
<path d="M587.00,31.50 L772.00,31.90" stroke="#3a3632" stroke-width="0.7" fill="none" />
<polygon points="587.3,31.5 595.8,29.9 595.8,33.1" fill="#1a1613"/>
<polygon points="772,31.9 763.5,30.299999999999997 763.5,33.5" fill="#1a1613"/>
<text class="t" x="653" y="26.7" textLength="43.5" lengthAdjust="spacing">1,500 m</text>
<path d="M604.00,222.00 L604.00,254.00" stroke="#3a3632" stroke-width="0.7" fill="none" stroke-dasharray="4 2"/>
<path d="M756.00,222.00 L756.00,254.00" stroke="#3a3632" stroke-width="0.7" fill="none" stroke-dasharray="4 2"/>
<path d="M604.00,250.00 L652.50,250.00" stroke="#3a3632" stroke-width="0.7" fill="none" />
<polygon points="604,250 612.5,248.4 612.5,251.6" fill="#1a1613"/>
<path d="M707.50,250.00 L756.00,250.00" stroke="#3a3632" stroke-width="0.7" fill="none" />
<polygon points="756,250 747.5,248.4 747.5,251.6" fill="#1a1613"/>
<text class="t" x="657" y="253" textLength="43" lengthAdjust="spacing">1,260 m</text>
<path d="M618.80,271.50 L619.00,320.00" stroke="#3a3632" stroke-width="0.7" fill="none" />
<path d="M738.80,271.50 L739.00,312.00" stroke="#3a3632" stroke-width="0.7" fill="none" />
<path d="M619.00,277.50 L653.50,277.50" stroke="#3a3632" stroke-width="0.7" fill="none" />
<polygon points="619,277.5 627.5,275.9 627.5,279.1" fill="#1a1613"/>
<path d="M706.00,277.50 L739.00,277.50" stroke="#3a3632" stroke-width="0.7" fill="none" />
<polygon points="739,277.5 730.5,275.9 730.5,279.1" fill="#1a1613"/>
<text class="t" x="657" y="280.5" textLength="43" lengthAdjust="spacing">1,000 m</text>
<path d="M576.00,285.00 L622.00,285.00" stroke="#3a3632" stroke-width="0.7" fill="none" />
<path d="M579.60,287.00 L579.60,377.00" stroke="#3a3632" stroke-width="0.7" fill="none" />
<path d="M579.80,428.00 L579.80,484.00" stroke="#3a3632" stroke-width="0.7" fill="none" />
<polygon points="579.6,286 578.0,294 581.2,294" fill="#1a1613"/>
<polygon points="579.8,485.2 578.1999999999999,477.2 581.4,477.2" fill="#1a1613"/>
<text class="t" x="581.5" y="425.5" textLength="45.3" lengthAdjust="spacing" transform="rotate(-90 581.5 425.5)">1,825 m</text>
<path d="M608.00,478.00 L608.00,500.00" stroke="#3a3632" stroke-width="0.7" fill="none" stroke-dasharray="4 2"/>
<path d="M754.00,478.00 L754.00,500.00" stroke="#3a3632" stroke-width="0.7" fill="none" stroke-dasharray="4 2"/>
<path d="M608.00,496.60 L655.00,496.60" stroke="#3a3632" stroke-width="0.7" fill="none" />
<polygon points="608,496.6 616.5,495.0 616.5,498.20000000000005" fill="#1a1613"/>
<path d="M708.00,496.60 L754.00,496.60" stroke="#3a3632" stroke-width="0.7" fill="none" />
<polygon points="754,496.6 745.5,495.0 745.5,498.20000000000005" fill="#1a1613"/>
<text class="t" x="659" y="501" textLength="43.6" lengthAdjust="spacing">1,260 m</text>
<rect x="733" y="363.5" width="11.5" height="47.5" fill="#dda284"/>
<path d="M739.30,314.00 L739.30,363.00" stroke="#2a1a12" stroke-width="0.9" fill="none" />
<path d="M739.30,411.00 L739.30,429.00" stroke="#2a1a12" stroke-width="0.9" fill="none" />
<polygon points="739.3,434 737.8,427 740.8,427" fill="#1a1613"/>
<polygon points="739.3,309 737.8,316 740.8,316" fill="#1a1613"/>
<text class="t" x="742.8" y="409.5" textLength="44.5" lengthAdjust="spacing" transform="rotate(-90 742.8 409.5)">1,000 m</text>
<rect x="369.6" y="399.5" width="12.3" height="50.5" fill="#dea080"/>
<rect x="397.6" y="399.5" width="13.2" height="50.5" fill="#dea080"/>
<rect x="320.6" y="385.500" width="51.5" height="12.2" fill="#dea080"/>
<path d="M377.50,306.00 L377.50,399.00" stroke="#2a1a12" stroke-width="0.9" fill="none" />
<path d="M377.50,450.00 L377.50,481.00" stroke="#2a1a12" stroke-width="0.9" fill="none" />
<polygon points="377.5,304.5 376.0,311.5 379.0,311.5" fill="#1a1613"/>
<polygon points="377.5,482.5 376.0,475.5 379.0,475.5" fill="#1a1613"/>
<path d="M405.50,318.00 L405.50,399.00" stroke="#2a1a12" stroke-width="0.9" fill="none" />
<path d="M405.50,450.00 L405.50,464.00" stroke="#2a1a12" stroke-width="0.9" fill="none" />
<polygon points="405.5,317 404.0,324 407.0,324" fill="#1a1613"/>
<polygon points="405.5,465.5 404.0,458.5 407.0,458.5" fill="#1a1613"/>
<path d="M298.00,390.75 L319.00,390.75" stroke="#2a1a12" stroke-width="0.9" fill="none" />
<path d="M373.00,390.75 L484.00,390.75" stroke="#2a1a12" stroke-width="0.9" fill="none" />
<polygon points="297.5,390.75 305.5,389.25 305.5,392.25" fill="#1a1613"/>
<polygon points="484.8,390.75 476.8,389.25 476.8,392.25" fill="#1a1613"/>
<text class="t" x="321.5" y="394.6" textLength="43.7" lengthAdjust="spacing">1,660 m</text>
<text class="t" x="378.5" y="448.5" textLength="44.5" lengthAdjust="spacing" transform="rotate(-90 378.5 448.5)">1,410 m</text>
<text class="t" x="407" y="447.8" textLength="43.8" lengthAdjust="spacing" transform="rotate(-90 407 447.8)">0,970 m</text></g>

</svg>
</body></html>
